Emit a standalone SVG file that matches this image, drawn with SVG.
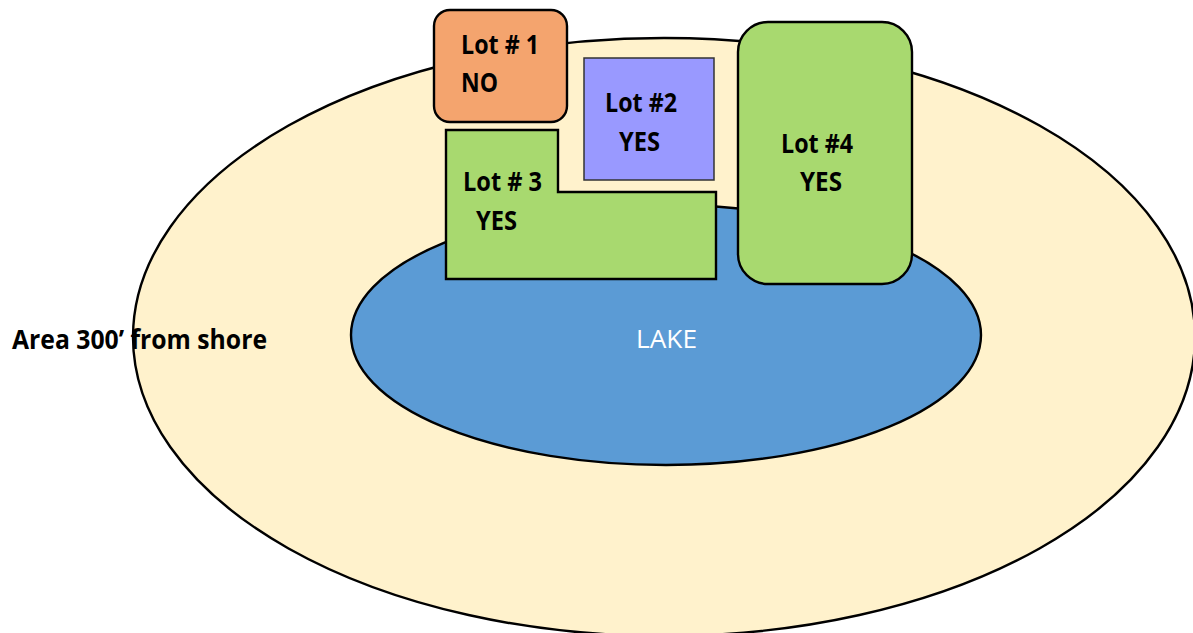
<svg xmlns="http://www.w3.org/2000/svg" width="1193" height="633" viewBox="0 0 1193 633">
<style>
.ln{stroke:#000;stroke-width:2.4}
.t{font-family:"Open Sans","Noto Sans","Liberation Sans",sans-serif;font-weight:bold;font-size:26px;fill:#000}
.lk{font-family:"Open Sans","Noto Sans","Liberation Sans",sans-serif;font-size:26px;fill:#fff}
</style>
<rect width="1193" height="633" fill="#fff"/>
<g id="area">
<ellipse cx="664" cy="337" rx="531" ry="299" fill="#FFF2CC" class="ln"/>
</g>
<g id="lake">
<ellipse cx="666" cy="335" rx="315" ry="130" fill="#5B9BD5" class="ln"/>
<text class="lk" x="636" y="348" textLength="61" lengthAdjust="spacingAndGlyphs">LAKE</text>
</g>
<g id="lot1">
<rect x="434" y="10" width="133" height="112" rx="16" fill="#F4A46E" class="ln"/>
<text class="t" x="461" y="54" textLength="78" lengthAdjust="spacingAndGlyphs">Lot # 1</text>
<text class="t" x="461" y="92" textLength="37" lengthAdjust="spacingAndGlyphs">NO</text>
</g>
<g id="lot2">
<rect x="584" y="58" width="130" height="122" fill="#9999FF" stroke="#333" stroke-width="1.5"/>
<text class="t" x="605" y="112" textLength="72" lengthAdjust="spacingAndGlyphs">Lot #2</text>
<text class="t" x="619" y="151" textLength="41" lengthAdjust="spacingAndGlyphs">YES</text>
</g>
<g id="lot3">
<path d="M446 130 H558 V192 H716 V279 H446 Z" fill="#A8D96F" class="ln"/>
<text class="t" x="463" y="191" textLength="79" lengthAdjust="spacingAndGlyphs">Lot # 3</text>
<text class="t" x="476" y="230" textLength="41" lengthAdjust="spacingAndGlyphs">YES</text>
</g>
<g id="lot4">
<rect x="738" y="22" width="174" height="262" rx="30" fill="#A8D96F" class="ln"/>
<text class="t" x="781" y="153" textLength="72" lengthAdjust="spacingAndGlyphs">Lot #4</text>
<text class="t" x="800" y="191" textLength="42" lengthAdjust="spacingAndGlyphs">YES</text>
</g>
<g id="label">
<text class="t" x="12" y="349" textLength="255" lengthAdjust="spacingAndGlyphs">Area 300’ from shore</text>
</g>
<g id="connectors"/>
</svg>
